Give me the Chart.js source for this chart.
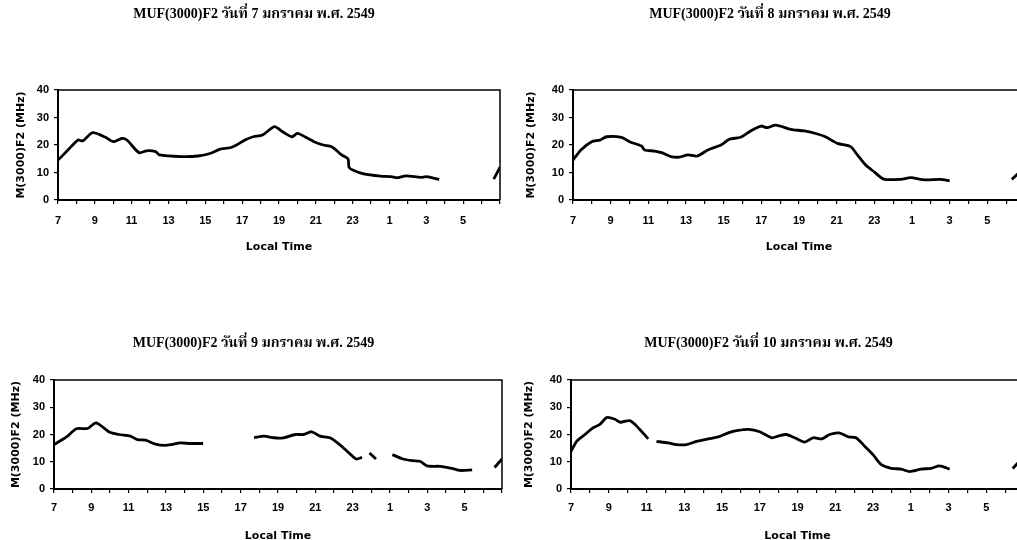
<!DOCTYPE html>
<html>
<head>
<meta charset="utf-8">
<script src="https://cdn.jsdelivr.net/npm/chart.js@4/dist/chart.umd.min.js"></script>
<style>
  html, body { margin: 0; padding: 0; background: #fff; width: 1017px; height: 540px; overflow: hidden; position: relative; }
  canvas { position: absolute; }
</style>
</head>
<body>
<canvas id="c1" width="510" height="260" style="left:0px;top:0px;width:510px;height:260px"></canvas>
<canvas id="c2" width="524" height="260" style="left:515px;top:0px;width:524px;height:260px"></canvas>
<canvas id="c3" width="510" height="220" style="left:0px;top:329px;width:510px;height:220px"></canvas>
<canvas id="c4" width="526" height="220" style="left:513px;top:329px;width:526px;height:220px"></canvas>
<script>
// ---- Data (hours since 07:00 local time, MUF(3000)F2 in MHz; null = gap) ----
const titles = [
  'MUF(3000)F2 วันที่ 7 มกราคม พ.ศ. 2549',
  'MUF(3000)F2 วันที่ 8 มกราคม พ.ศ. 2549',
  'MUF(3000)F2 วันที่ 9 มกราคม พ.ศ. 2549',
  'MUF(3000)F2 วันที่ 10 มกราคม พ.ศ. 2549'
];
const xTitle = 'Local Time';
const yTitle = 'M(3000)F2 (MHz)';
const tickLabels = ['7','9','11','13','15','17','19','21','23','1','3','5'];

const hours1 = [0, 0.46, 1.08, 1.35, 1.88, 2.58, 3.0, 3.47, 3.74, 4.4, 4.8, 5.3, 5.5, 6.7, 7.6, 8.3, 8.8, 9.35, 9.7, 10.15, 10.6, 11.1, 11.75, 12.2, 12.7, 13.0, 13.4, 13.9, 14.4, 14.86, 15.4, 15.75, 15.8, 16.0, 16.6, 17.5, 18.1, 18.4, 18.9, 19.7, 20.0, 20.7, 22, 23.66, 24.0];
const muf1   = [14.5, 17.6, 21.8, 21.5, 24.5, 22.8, 21.2, 22.4, 21.8, 17.2, 17.9, 17.6, 16.4, 15.8, 16.0, 17.0, 18.5, 19.0, 20.0, 21.8, 23.0, 23.6, 26.7, 24.8, 23.0, 24.2, 23.0, 21.2, 20.0, 19.4, 16.4, 14.9, 11.9, 10.9, 9.5, 8.7, 8.5, 8.1, 8.8, 8.2, 8.5, 7.5, null, 7.6, 11.9];

const hours2 = [0, 0.42, 0.99, 1.43, 1.78, 2.57, 3.0, 3.64, 3.8, 4.34, 4.7, 5.2, 5.66, 6.1, 6.6, 7.16, 7.86, 8.3, 8.9, 9.45, 9.98, 10.3, 10.77, 11.57, 12.28, 12.98, 13.4, 14.04, 14.74, 15.1, 15.54, 15.98, 16.5, 17.4, 17.92, 18.7, 19.5, 20.0, 22, 23.3, 24];
const muf2   = [14.5, 18.2, 21.2, 21.8, 23.0, 22.8, 21.2, 19.6, 18.2, 17.8, 17.2, 15.8, 15.6, 16.4, 16.0, 18.2, 20.0, 22.1, 22.8, 25.2, 26.9, 26.3, 27.2, 25.7, 25.1, 24.0, 23.0, 20.6, 19.4, 16.4, 12.7, 10.3, 7.6, 7.5, 8.1, 7.3, 7.5, 7.0, null, 7.5, 12.0];

const hours3 = [0, 0.67, 1.2, 1.8, 2.26, 2.96, 3.49, 4.1, 4.46, 4.9, 5.43, 5.96, 6.3, 6.76, 7.3, 7.99, 9, 10.72, 11.25, 11.78, 12.3, 12.93, 13.37, 13.8, 14.25, 14.78, 15.3, 15.84, 16.19, 16.5, 16.7, 16.9, 17.25, 17.7, 18.13, 18.66, 19.2, 19.6, 19.98, 20.7, 21.3, 21.74, 22.4, 23, 23.6, 24];
const muf3   = [16.3, 19.1, 22.1, 22.2, 24.3, 20.9, 20.0, 19.4, 18.1, 17.9, 16.5, 16.0, 16.3, 16.9, 16.7, 16.7, null, 18.8, 19.4, 18.8, 18.8, 20.0, 20.0, 21.0, 19.4, 18.8, 16.3, 13.0, 11.0, 11.6, null, 13.2, 11.0, null, 12.6, 11.1, 10.4, 10.2, 8.5, 8.3, 7.6, 6.8, 7.0, null, 7.9, 11.0];

const hours4 = [0, 0.3, 0.74, 1.18, 1.53, 1.89, 2.33, 2.6, 3.12, 3.56, 4.09, 4.3, 4.53, 5.15, 5.59, 6.12, 6.65, 7.27, 7.8, 8.33, 8.86, 9.4, 10.0, 10.64, 10.97, 11.4, 11.85, 12.38, 12.82, 13.3, 13.7, 14.2, 14.7, 15.1, 15.56, 16.0, 16.44, 16.97, 17.5, 17.94, 18.55, 19.08, 19.52, 20.06, 22, 23.4, 24];
const muf4   = [13.8, 17.5, 20.0, 22.5, 23.7, 26.2, 25.6, 24.5, 25.1, 22.5, 18.4, null, 17.5, 16.9, 16.3, 16.3, 17.5, 18.4, 19.1, 20.6, 21.5, 21.9, 21.0, 18.8, 19.4, 20.0, 18.8, 17.2, 18.8, 18.4, 20.0, 20.6, 19.1, 18.8, 15.7, 12.6, 8.9, 7.6, 7.3, 6.4, 7.3, 7.6, 8.5, 7.3, null, 7.5, 12.0];

// ---- Layout per panel ----
const panels = [
  { id: 'c1', hours: hours1, vals: muf1, title: titles[0], yW: 58, padR: 2,  titleBottom: 67.2, tickPad: 10, yTitlePad: 15 },
  { id: 'c2', hours: hours2, vals: muf2, title: titles[1], yW: 58, padR: 14, titleBottom: 67.2, tickPad: 10, yTitlePad: 10 },
  { id: 'c3', hours: hours3, vals: muf3, title: titles[2], yW: 54, padR: 3,  titleBottom: 28.2, tickPad: 8,  yTitlePad: 10 },
  { id: 'c4', hours: hours4, vals: muf4, title: titles[3], yW: 58, padR: 15, titleBottom: 28.2, tickPad: 8,  yTitlePad: 10 }
];

const framePlugin = {
  id: 'frame',
  afterDraw(chart) {
    const a = chart.chartArea, ctx = chart.ctx;
    ctx.save();
    ctx.strokeStyle = '#000';
    ctx.lineWidth = 1.5;
    ctx.beginPath();
    ctx.moveTo(a.left, a.top);
    ctx.lineTo(a.right, a.top);
    ctx.lineTo(a.right, a.bottom);
    ctx.stroke();
    ctx.restore();
  }
};

const titleFont = { family: '"Liberation Serif", "Noto Serif Thai", "Noto Sans Thai", "Noto Sans", serif', size: 14, weight: 'bold' };
const axisTitleFont = { family: '"DejaVu Sans", sans-serif', size: 11, weight: 'bold' };
const tickFont = { family: '"Liberation Sans", Arial, sans-serif', size: 11, weight: 'bold' };

panels.forEach(p => {
  const data = p.hours.map((h, i) => ({ x: h, y: p.vals[i] }));
  new Chart(document.getElementById(p.id), {
    type: 'line',
    data: { datasets: [{ data, borderColor: '#000', borderWidth: 2.8, pointRadius: 0, tension: 0.25, spanGaps: false, fill: false }] },
    options: {
      responsive: false,
      animation: false,
      events: [],
      layout: { padding: { left: 0, right: p.padR, top: 0, bottom: 0 } },
      plugins: {
        legend: { display: false },
        tooltip: { enabled: false },
        title: { display: true, text: p.title, color: '#000', font: titleFont, padding: { top: 6, bottom: p.titleBottom } }
      },
      scales: {
        x: {
          type: 'linear', min: 0, max: 24,
          afterFit(s) { s.height = 60; },
          border: { display: true, color: '#000', width: 2 },
          grid: { display: true, drawOnChartArea: false, drawTicks: true, tickLength: 4, color: '#000', lineWidth: 1.2 },
          ticks: {
            stepSize: 1, autoSkip: false, maxRotation: 0, color: '#000', font: tickFont, padding: p.tickPad,
            callback: v => (v % 2 === 0 && v < 24) ? tickLabels[v / 2] : ''
          },
          title: { display: true, text: xTitle, color: '#000', font: axisTitleFont, padding: { top: 0, bottom: 6 } }
        },
        y: {
          min: 0, max: 40,
          afterFit(s) { s.width = p.yW; },
          border: { display: true, color: '#000', width: 2 },
          grid: { display: true, drawOnChartArea: false, drawTicks: true, tickLength: 4, color: '#000', lineWidth: 1.2 },
          ticks: { stepSize: 10, color: '#000', font: tickFont, padding: 5 },
          title: { display: true, text: yTitle, color: '#000', font: axisTitleFont, padding: { top: p.yTitlePad, bottom: 0 } }
        }
      }
    },
    plugins: [framePlugin]
  });
});
</script>
</body>
</html>
